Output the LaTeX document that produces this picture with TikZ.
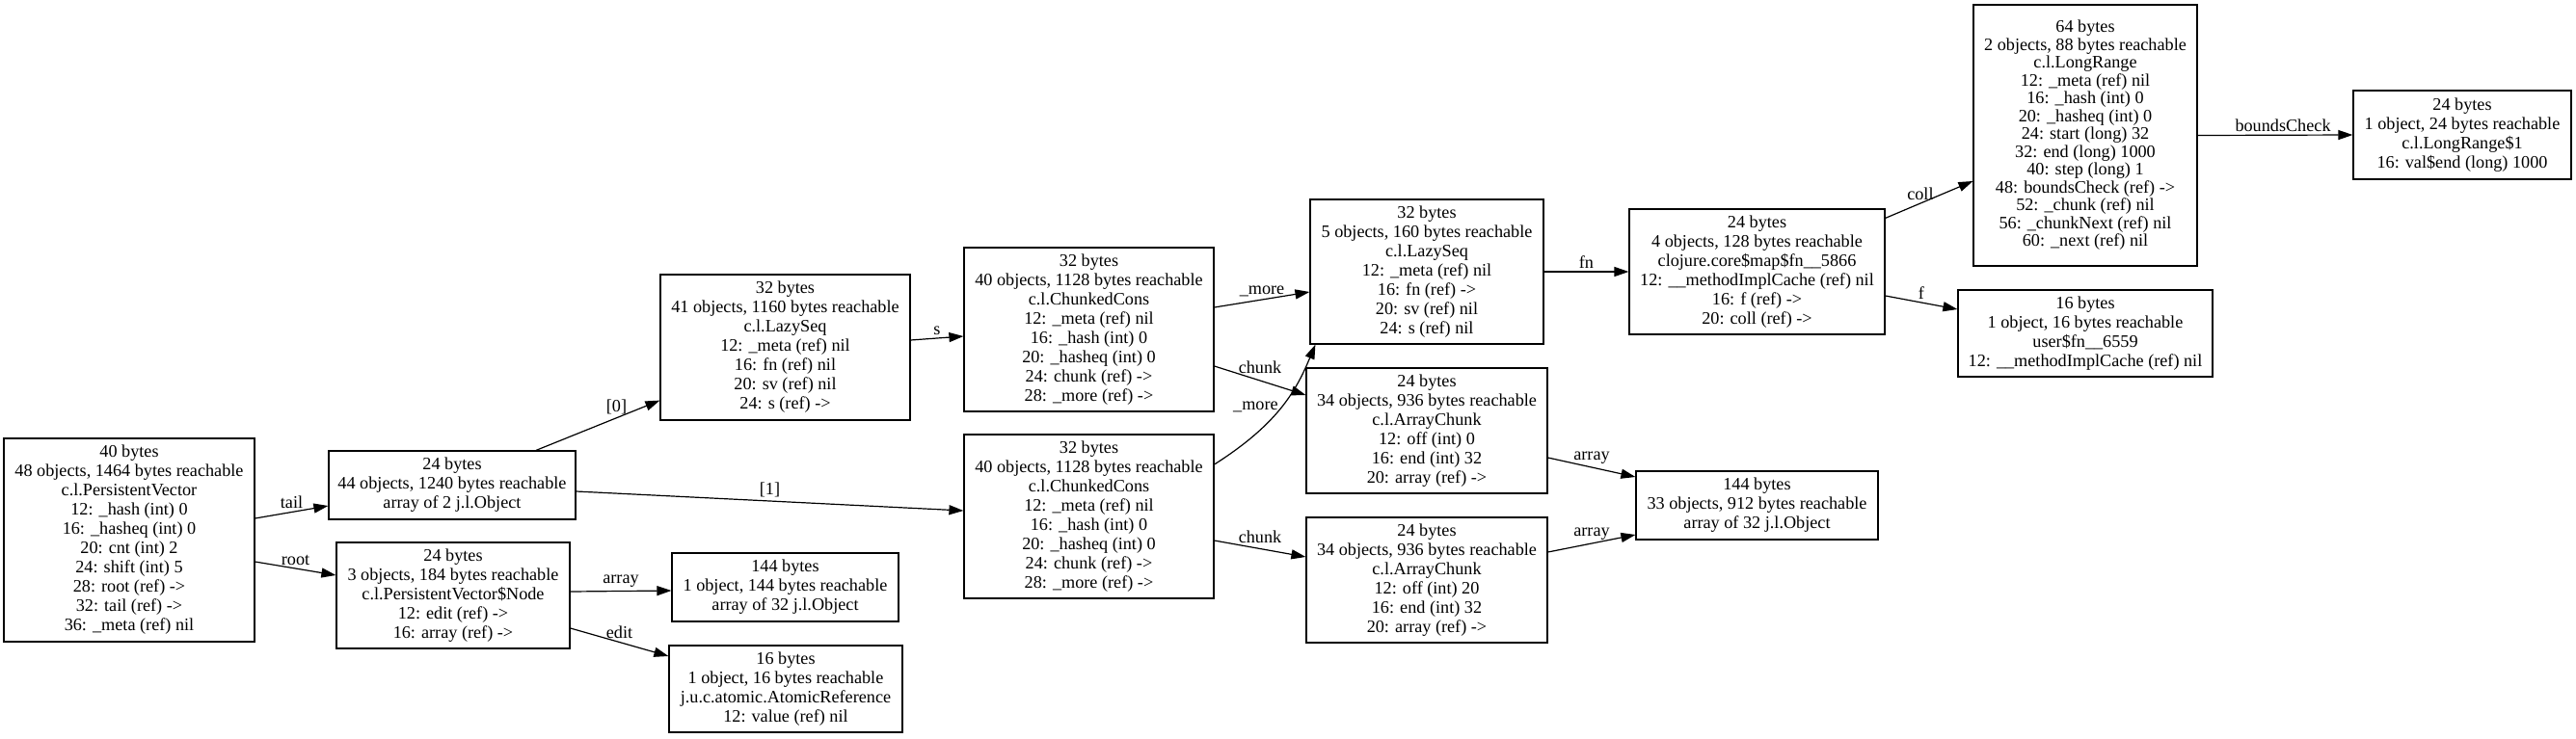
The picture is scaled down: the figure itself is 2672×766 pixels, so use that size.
\documentclass[tikz,border=0pt]{standalone}
\usepackage{fontspec}
\setmainfont{Liberation Serif}
\usetikzlibrary{arrows.meta,calc}

\begin{document}
\begin{tikzpicture}[
    x=1pt, y=-1pt,
    obj/.style={draw, rectangle, align=center, inner sep=2pt, line width=1.2pt, font=\fontsize{18.2}{20}\selectfont},
    link/.style={->, >={Triangle[length=15pt, width=10pt]}, line width=1.2pt},
    lbl/.style={font=\fontsize{18.2}{20}\selectfont, inner sep=3pt}
]
    \useasboundingbox (0,0) rectangle (2672,766);

    \node[obj, minimum width=260, minimum height=211] (pv) at (134,560.5) {40 bytes\\48 objects, 1464 bytes reachable\\c.l.PersistentVector\\12: \_hash (int) 0\\16: \_hasheq (int) 0\\20: cnt (int) 2\\24: shift (int) 5\\28: root (ref) ->\\32: tail (ref) ->\\36: \_meta (ref) nil};
    \node[obj, minimum width=256, minimum height=71] (tailarr) at (469,503.5) {24 bytes\\44 objects, 1240 bytes reachable\\array of 2 j.l.Object};
    \node[obj, minimum width=242, minimum height=110] (rootnode) at (470,618) {24 bytes\\3 objects, 184 bytes reachable\\c.l.PersistentVector\$Node\\12: edit (ref) ->\\16: array (ref) ->};
    \node[obj, minimum width=235, minimum height=71] (nodearr) at (814.5,609.5) {144 bytes\\1 object, 144 bytes reachable\\array of 32 j.l.Object};
    \node[obj, minimum width=242, minimum height=90] (editref) at (815,715) {16 bytes\\1 object, 16 bytes reachable\\j.u.c.atomic.AtomicReference\\12: value (ref) nil};
    \node[obj, minimum width=259, minimum height=151] (lazyA) at (814.5,360.5) {32 bytes\\41 objects, 1160 bytes reachable\\c.l.LazySeq\\12: \_meta (ref) nil\\16: fn (ref) nil\\20: sv (ref) nil\\24: s (ref) ->};
    \node[obj, minimum width=259, minimum height=170] (consA) at (1129.5,342) {32 bytes\\40 objects, 1128 bytes reachable\\c.l.ChunkedCons\\12: \_meta (ref) nil\\16: \_hash (int) 0\\20: \_hasheq (int) 0\\24: chunk (ref) ->\\28: \_more (ref) ->};
    \node[obj, minimum width=259, minimum height=170] (consB) at (1129.5,536) {32 bytes\\40 objects, 1128 bytes reachable\\c.l.ChunkedCons\\12: \_meta (ref) nil\\16: \_hash (int) 0\\20: \_hasheq (int) 0\\24: chunk (ref) ->\\28: \_more (ref) ->};
    \node[obj, minimum width=242, minimum height=150] (lazyB) at (1480,282) {32 bytes\\5 objects, 160 bytes reachable\\c.l.LazySeq\\12: \_meta (ref) nil\\16: fn (ref) ->\\20: sv (ref) nil\\24: s (ref) nil};
    \node[obj, minimum width=250, minimum height=130] (chunkA) at (1480,447) {24 bytes\\34 objects, 936 bytes reachable\\c.l.ArrayChunk\\12: off (int) 0\\16: end (int) 32\\20: array (ref) ->};
    \node[obj, minimum width=250, minimum height=130] (chunkB) at (1480,602) {24 bytes\\34 objects, 936 bytes reachable\\c.l.ArrayChunk\\12: off (int) 20\\16: end (int) 32\\20: array (ref) ->};
    \node[obj, minimum width=251, minimum height=71] (chunkarr) at (1822.5,524.5) {144 bytes\\33 objects, 912 bytes reachable\\array of 32 j.l.Object};
    \node[obj, minimum width=265, minimum height=130] (mapfn) at (1822.5,282) {24 bytes\\4 objects, 128 bytes reachable\\clojure.core\$map\$fn\_\_5866\\12: \_\_methodImplCache (ref) nil\\16: f (ref) ->\\20: coll (ref) ->};
    \node[obj, minimum width=232, minimum height=271, font=\fontsize{18.2}{18.5}\selectfont] (longrange) at (2163,140.5) {64 bytes\\2 objects, 88 bytes reachable\\c.l.LongRange\\12: \_meta (ref) nil\\16: \_hash (int) 0\\20: \_hasheq (int) 0\\24: start (long) 32\\32: end (long) 1000\\40: step (long) 1\\48: boundsCheck (ref) ->\\52: \_chunk (ref) nil\\56: \_chunkNext (ref) nil\\60: \_next (ref) nil};
    \node[obj, minimum width=264, minimum height=90] (userfn) at (2163,346) {16 bytes\\1 object, 16 bytes reachable\\user\$fn\_\_6559\\12: \_\_methodImplCache (ref) nil};
    \node[obj, minimum width=226, minimum height=92] (lrone) at (2554,140) {24 bytes\\1 object, 24 bytes reachable\\c.l.LongRange\$1\\16: val\$end (long) 1000};

    \draw[link] ($(pv.east)+(0,-22.5)$) -- node[lbl, above] {tail} ($(tailarr.west)+(0,21.5)$);
    \draw[link] ($(pv.east)+(0,22.5)$) -- node[lbl, above] {root} ($(rootnode.west)+(0,-21)$);
    \draw[link] ($(tailarr.north)+(87,0)$) -- node[lbl, above, pos=.65] {[0]} ($(lazyA.south west)+(0,-21)$);
    \draw[link] ($(tailarr.east)+(0,6.5)$) -- node[lbl, above, pos=.5] {[1]} ($(consB.west)+(0,-6)$);
    \draw[link] ($(rootnode.east)+(0,-4)$) -- node[lbl, above] {array} ($(nodearr.west)+(0,3.5)$);
    \draw[link] ($(rootnode.east)+(0,34)$) -- node[lbl, above] {edit} ($(editref.west)+(0,-34)$);
    \draw[link] ($(lazyA.east)+(0,-7.5)$) -- node[lbl, above] {s} ($(consA.west)+(0,7)$);
    \draw[link] ($(consA.east)+(0,-23)$) -- node[lbl, above] {\_more} ($(lazyB.west)+(0,21)$);
    \draw[link] ($(consA.east)+(0,38)$) -- node[lbl, above=4pt] {chunk} ($(chunkA.west)+(0,-37)$);
    \draw[link] ($(consB.east)+(0,-54)$) .. controls +(66,-42) and +(-20,48) .. node[lbl, left, pos=.5] {\_more} ($(lazyB.south west)+(6,0)$);
    \draw[link] ($(consB.east)+(0,25)$) -- node[lbl, above=2pt] {chunk} ($(chunkB.west)+(0,-24)$);
    \draw[link] (lazyB.east) -- node[lbl, above] {fn} (mapfn.west);
    \draw[link] ($(chunkA.east)+(0,28)$) -- node[lbl, above] {array} ($(chunkarr.west)+(0,-29.5)$);
    \draw[link] ($(chunkB.east)+(0,-29)$) -- node[lbl, above] {array} ($(chunkarr.west)+(0,30.5)$);
    \draw[link] ($(mapfn.north east)+(0,10)$) -- node[lbl, above, pos=.4] {coll} ($(longrange.west)+(0,47.5)$);
    \draw[link] ($(mapfn.east)+(0,25)$) -- node[lbl, above] {f} ($(userfn.west)+(0,-25)$);
    \draw[link] (longrange.east) -- node[lbl, above, pos=.55] {boundsCheck} (lrone.west);
\end{tikzpicture}
\end{document}
